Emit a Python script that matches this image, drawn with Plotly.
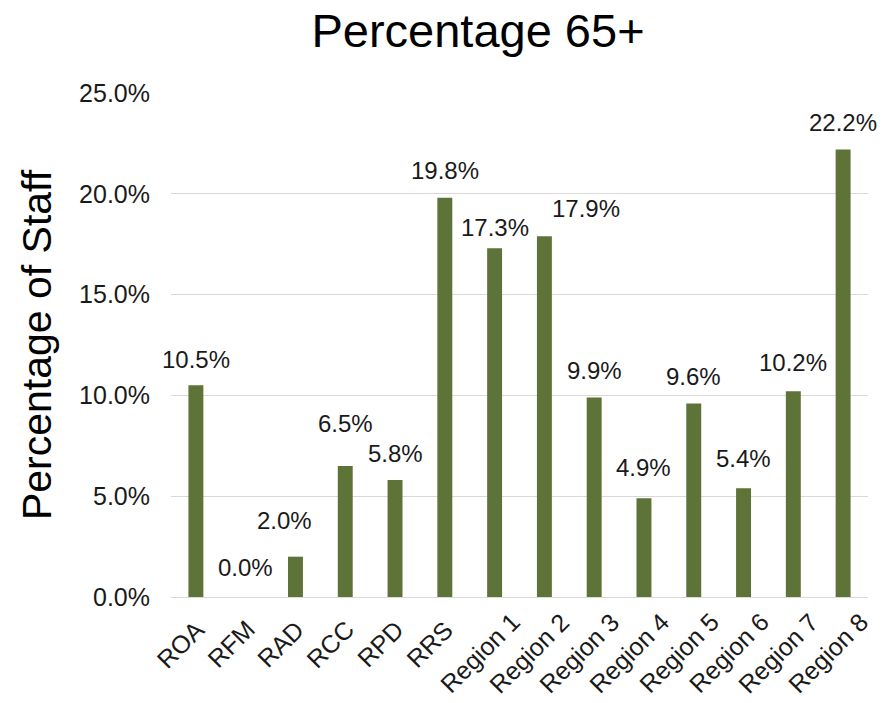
import plotly.graph_objects as go

# Share of staff aged 65 and over, by unit
categories = ["ROA", "RFM", "RAD", "RCC", "RPD", "RRS",
              "Region 1", "Region 2", "Region 3", "Region 4",
              "Region 5", "Region 6", "Region 7", "Region 8"]
pct_65_plus = [10.5, 0.0, 2.0, 6.5, 5.8, 19.8,
               17.3, 17.9, 9.9, 4.9, 9.6, 5.4, 10.2, 22.2]
y_ticks = [0, 5, 10, 15, 20, 25]

# Label nudges (pixels) so the value labels don't collide
label_dx = [0, 0, -11, 0, 0, 0, 0, 42, 0, 0, 0, 0, 0, 0]
label_dy = [26, 30, 36, 42, 27, 27, 21, 28, 27, 31, 27, 30, 29, 27]

BAR = "rgb(94,115,55)"
FONT = "Liberation Sans, Arial, sans-serif"
TXT = "#1a1a1a"

fig = go.Figure(go.Bar(
    x=categories, y=pct_65_plus,
    marker=dict(color=BAR, line=dict(width=0)),
    width=0.3,
    hoverinfo="x+y",
))

# value labels above the bars
for cat, val, dx, dy in zip(categories, pct_65_plus, label_dx, label_dy):
    fig.add_annotation(
        x=cat, y=val, text=f"{val:.1f}%",
        showarrow=False, xanchor="center", yanchor="middle",
        xshift=dx, yshift=dy,
        font=dict(family=FONT, size=24, color=TXT),
    )

# slanted category labels, centred a little left of each bar and
# dropping lower for the longer names
for cat in categories:
    long_name = len(cat) > 4
    fig.add_annotation(
        x=cat, y=0, yref="paper", text=cat, textangle=-45,
        showarrow=False, xanchor="center", yanchor="middle",
        xshift=-15, yshift=-56 if long_name else -47,
        font=dict(family=FONT, size=25, color=TXT),
    )

fig.update_layout(
    width=892, height=703,
    margin=dict(l=171, r=24, t=93, b=106, autoexpand=False),
    paper_bgcolor="white", plot_bgcolor="white",
    showlegend=False,
    font=dict(family=FONT, color=TXT),
    title=dict(
        text="Percentage 65+",
        x=478 / 892, xref="container", xanchor="center",
        y=1 - 31 / 703, yref="container", yanchor="middle",
        font=dict(family=FONT, size=47, color="black"),
    ),
    xaxis=dict(
        type="category",
        showticklabels=False,
        showgrid=False, showline=False, ticks="",
        range=[-0.5, len(categories) - 0.5],
    ),
    yaxis=dict(
        range=[0, 25],
        tickvals=y_ticks,
        ticktext=[f"{v:.1f}%" for v in y_ticks],
        tickfont=dict(family=FONT, size=25, color=TXT),
        showgrid=True, gridcolor="#d9d9d9", gridwidth=1.2,
        zeroline=True, zerolinecolor="#d9d9d9", zerolinewidth=1.2,
        showline=False, ticks="",
        ticklabelstandoff=20,
        title=dict(text="Percentage of Staff",
                   font=dict(family=FONT, size=41, color="black"),
                   standoff=14),
    ),
)

fig.write_html("out.html")
